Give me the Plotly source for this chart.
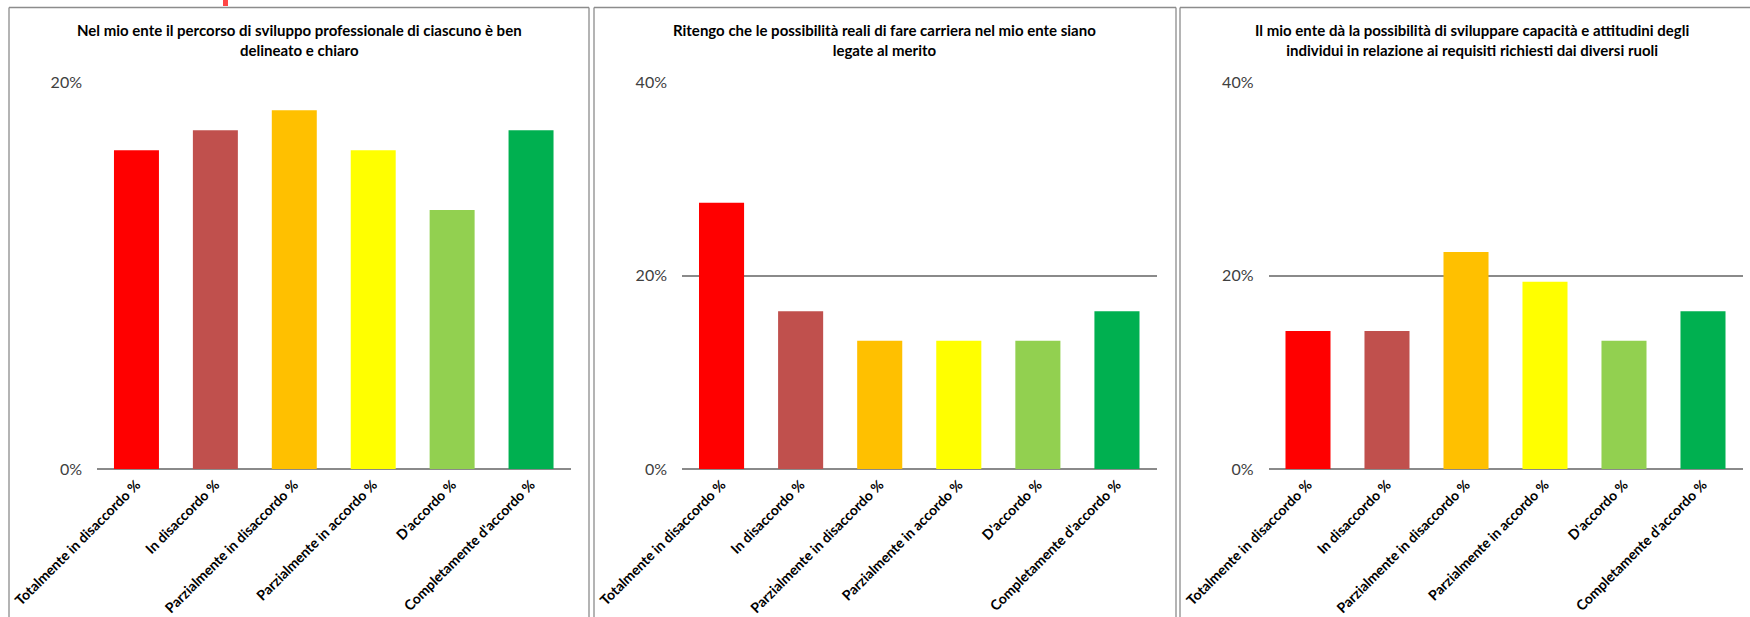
import plotly.graph_objects as go

W, H = 1750, 617

categories = [
    "Totalmente in disaccordo %",
    "In disaccordo %",
    "Parzialmente in disaccordo %",
    "Parzialmente in accordo %",
    "D'accordo %",
    "Completamente d'accordo %",
]
bar_colors = ["#FF0000", "#C0504D", "#FFC000", "#FFFF00", "#92D050", "#00B050"]

titles = [
    "Nel mio ente il percorso di sviluppo professionale di ciascuno è ben<br>delineato e chiaro",
    "Ritengo che le possibilità reali di fare carriera nel mio ente siano<br>legate al merito",
    "Il mio ente dà la possibilità di sviluppare capacità e attitudini degli<br>individui in relazione ai requisiti richiesti dai diversi ruoli",
]

percorso_chiaro = [16.49, 17.53, 18.56, 16.49, 13.40, 17.53]
carriera_merito = [27.55, 16.33, 13.27, 13.27, 13.27, 16.33]
sviluppo_capacita = [14.29, 14.29, 22.45, 19.39, 13.27, 16.33]
series = [percorso_chiaro, carriera_merito, sviluppo_capacita]

y_max = [20, 40, 40]
y_ticks = [[0, 20], [0, 20, 40], [0, 20, 40]]

# layout in pixels
plot_x = [(97, 570.5), (682, 1156.5), (1268.5, 1742.5)]
plot_top, plot_zero = 82.5, 469
panel_x = [(9, 589), (594, 1176), (1180, 1764)]
panel_top = 7.5

FONT = "Lato, 'Open Sans', sans-serif"
GRID = "#8a8a8a"


def px(x):
    return x / W


def py(y):
    return 1 - y / H


fig = go.Figure()
shapes = []
annotations = []

for i in range(3):
    n = i + 1
    xa = "x" if n == 1 else f"x{n}"
    ya = "y" if n == 1 else f"y{n}"
    fig.add_trace(go.Bar(
        x=categories,
        y=series[i],
        marker=dict(color=bar_colors, line=dict(width=0)),
        width=0.57,
        xaxis=xa,
        yaxis=ya,
        showlegend=False,
        hoverinfo="x+y",
    ))
    x0, x1 = plot_x[i]
    fig.update_layout(**{
        f"xaxis{'' if n == 1 else n}": dict(
            domain=[px(x0), px(x1)],
            anchor=ya,
            automargin=False,
            tickangle=-45,
            tickfont=dict(family=FONT, size=14, color="#000000", weight="bold"),
            ticklabelstandoff=4,
            showgrid=False,
            showline=False,
            zeroline=False,
            ticks="",
            fixedrange=True,
        ),
        f"yaxis{'' if n == 1 else n}": dict(
            domain=[py(plot_zero), py(plot_top)],
            anchor=xa,
            automargin=False,
            range=[0, y_max[i]],
            tickvals=y_ticks[i],
            ticktext=[f"{v}%" for v in y_ticks[i]],
            tickfont=dict(family=FONT, size=16, color="#404040"),
            ticklabelstandoff=14,
            showgrid=True,
            gridcolor=GRID,
            gridwidth=1.5,
            zeroline=True,
            zerolinecolor=GRID,
            zerolinewidth=1.5,
            showline=False,
            ticks="",
            fixedrange=True,
        ),
    })

    # panel frame: left, top, right edges
    l, r = panel_x[i]
    for (ax0, ay0, ax1, ay1) in [(l, panel_top, l, H + 5), (l, panel_top, r, panel_top), (r, panel_top, r, H + 5)]:
        shapes.append(dict(type="line", xref="paper", yref="paper",
                           x0=px(ax0), y0=py(ay0), x1=px(ax1), y1=py(ay1),
                           line=dict(color="#8c8c8c", width=1.3)))

    annotations.append(dict(
        xref="paper", yref="paper",
        x=px((l + r) / 2), y=py(40.5),
        xanchor="center", yanchor="middle",
        text=f"<b>{titles[i]}</b>",
        showarrow=False,
        align="center",
        font=dict(family=FONT, size=15, color="#000000"),
    ))

# small red marker at the top edge
shapes.append(dict(type="rect", xref="paper", yref="paper",
                   x0=px(223), x1=px(228), y0=py(0), y1=py(6),
                   fillcolor="#ff4545", line=dict(width=0)))

fig.update_layout(
    width=W,
    height=H,
    margin=dict(l=0, r=0, t=0, b=0),
    paper_bgcolor="#ffffff",
    plot_bgcolor="rgba(0,0,0,0)",
    bargap=0.43,
    shapes=shapes,
    annotations=annotations,
)

fig.write_html("out.html")
